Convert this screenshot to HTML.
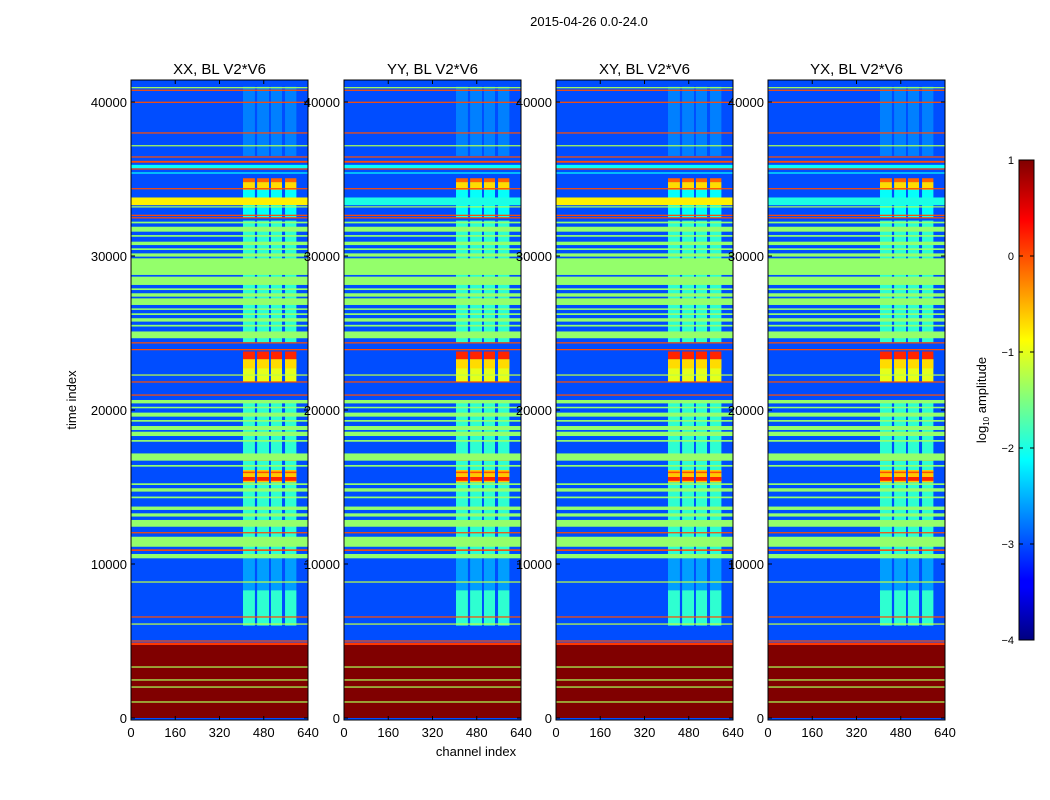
<!DOCTYPE html>
<html><head><meta charset="utf-8">
<style>
body{margin:0;background:#fff;}
svg{display:block;font-family:"Liberation Sans",sans-serif;}
</style></head>
<body>
<svg id="fig" width="1050" height="800" viewBox="0 0 1050 800" xmlns="http://www.w3.org/2000/svg">
<defs>
<linearGradient id="jetgrad" x1="0" y1="1" x2="0" y2="0">
<stop offset="0" stop-color="#000080"/>
<stop offset="0.11" stop-color="#0000ff"/>
<stop offset="0.125" stop-color="#0000ff"/>
<stop offset="0.375" stop-color="#00ffff"/>
<stop offset="0.625" stop-color="#ffff00"/>
<stop offset="0.875" stop-color="#ff0000"/>
<stop offset="1" stop-color="#800000"/>
</linearGradient>
</defs>
<text x="589" y="26" font-size="13" text-anchor="middle">2015-04-26 0.0-24.0</text>
<g id="panels"></g>
<text transform="translate(76,400) rotate(-90)" font-size="13" text-anchor="middle">time index</text>
<text x="476" y="756" font-size="13" text-anchor="middle">channel index</text>
<g id="cbar">
<rect x="1019" y="160" width="15" height="480" fill="url(#jetgrad)" stroke="#000" stroke-width="1"/>
<text transform="translate(986,400) rotate(-90)" font-size="13" text-anchor="middle">log<tspan font-size="8" dy="3">10</tspan><tspan dy="-3"> amplitude</tspan></text>
</g>
</svg>
<script>
// ---- data ----
const panelTitles = ["XX, BL V2*V6","YY, BL V2*V6","XY, BL V2*V6","YX, BL V2*V6"];
const xTicks = [0,160,320,480,640];
const yTicks = [0,10000,20000,30000,40000];
const cbarTicks = [1,0,-1,-2,-3,-4];
const backgroundValue = -3.0;
// horizontal bands: [tStart, tEnd, log10 amplitude]
const bands = [
 [0,4740,1],[1000,1080,-1.3],[1970,2050,-1.3],[2430,2510,-1.3],[3270,3350,-1.3],
 [4740,4900,0.1],[4960,5040,0],[6060,6140,-1.2],[6520,6600,0],[8790,8870,-1.2],
 [10370,10650,-1.4],[10850,10950,0],[11120,11770,-1.4],[11990,12070,0],[12420,12860,-1.4],
 [13080,13290,-1.4],[13510,13730,-1.4],[14270,14380,-1.4],[14700,14920,-1.4],[15130,15240,-1.4],
 [16320,16430,-1.4],[16710,17180,-1.4],[17940,18050,-1.4],[18310,18590,-1.4],[18700,18960,-1.4],
 [19240,19350,-1.4],[19570,19830,-1.4],[20110,20210,-1.4],[20430,20650,-1.4],[20930,21010,0],
 [21780,21860,0],[22230,22310,-1.2],[23880,23960,0],[24320,24400,0],
 [24660,25100,-1.4],[25420,25530,-1.4],[25740,25960,-1.4],[26170,26280,-1.4],[26500,26600,-1.4],
 [26820,27250,-1.4],[27360,27580,-1.4],[27790,27900,-1.4],[28120,28660,-1.4],[28770,29850,-1.4],
 [29960,30170,-1.4],[30390,30500,-1.4],[30710,30930,-1.4],[31250,31360,-1.4],[31580,31900,-1.4],
 [32120,32230,-1.4],[32440,32520,0],[32600,32680,0],[33150,33230,-1.3],
 [34330,34410,0],[35350,35430,-2.1],[35610,35690,0],[35700,35920,-2.1],[36060,36180,0],
 [36390,36470,0],[37120,37200,-1.3],[37950,38030,0],[39940,40020,0],[40720,40800,0],[40890,40970,-1.3]
];
// wide band whose value differs by panel (33300-33800)
const wideBandRange = [33300,33800];
const wideBandValues = [-0.8,-2.0,-0.8,-2.0];
// channel columns of the bright blocks
const blockCols = [[405,448],[456,499],[506,546],[557,598]];
// block regions: [tStart, tEnd, value]
const blocks = [
 [6000,8300,-1.9],[8300,10400,-2.6],[10400,20650,-1.9],[15300,16100,-0.6],[15400,15650,0.2],[15900,16000,0],[16700,16800,-0.3],
 [21850,23300,-1.0],[22700,23300,-0.7],[23300,23800,0.2],[24400,32300,-1.9],[32500,34300,-2.1],[34300,34800,-0.7],
 [34800,35050,-0.1],[36500,41000,-2.75]
];
// ---- scales ----
const panelX = [131,344,556,768], panelW = 177;
const yTop = 80, yBot = 720;
const tMax = (718-80)/0.0154;
function yS(t){ return 718 - t*0.0154; }
function xS(p,c){ return panelX[p] + c/640*panelW; }
function jet(v){
  const n = Math.max(0,Math.min(1,(v+4)/5));
  const cl = x=>Math.round(255*Math.max(0,Math.min(1,x)));
  return `rgb(${cl(1.5-Math.abs(4*n-3))},${cl(1.5-Math.abs(4*n-2))},${cl(1.5-Math.abs(4*n-1))})`;
}
const NS="http://www.w3.org/2000/svg";
const root=document.getElementById('panels');
function mk(tag,attrs,parent){const e=document.createElementNS(NS,tag);for(const k in attrs)e.setAttribute(k,attrs[k]);parent.appendChild(e);return e;}
function bandRect(g,p,t0,t1,c0,c1,v){
  const y0=yS(Math.min(t1,tMax)), y1=yS(t0);
  return mk('rect',{x:xS(p,c0),y:y0,width:xS(p,c1)-xS(p,c0),height:Math.max(1,y1-y0),fill:jet(v)},g);
}
panelTitles.forEach((title,p)=>{
  const g=mk('g',{},root);
  
  
  const bg=mk('rect',{x:panelX[p],y:yTop,width:panelW,height:yBot-yTop,fill:jet(backgroundValue)},g);
  
  
  blocks.forEach(b=>{
    blockCols.forEach(c=>{
      const r=bandRect(g,p,b[0],b[1],c[0],c[1],b[2]);
      
      
    });
  });
  const wb=bandRect(g,p,wideBandRange[0],wideBandRange[1],0,640,wideBandValues[p]);
  
  
  bands.forEach(b=>{
    const r=bandRect(g,p,b[0],b[1],0,640,b[2]);
    
    
  });
  const fr=mk('rect',{x:panelX[p],y:yTop,width:panelW,height:yBot-yTop,fill:'none',stroke:'#000','stroke-width':1},g);
  
  
  const tt=mk('text',{x:panelX[p]+panelW/2,y:74,'font-size':15,'text-anchor':'middle'},g);
  tt.textContent=title;
  
  
  xTicks.forEach(v=>{
    const x=xS(p,v);
    mk('line',{x1:x,x2:x,y1:yBot,y2:yBot-4,stroke:'#000'},g);
    mk('line',{x1:x,x2:x,y1:yTop,y2:yTop+4,stroke:'#000'},g);
    const t=mk('text',{x:x,y:737,'font-size':13,'text-anchor':'middle'},g);
    t.textContent=v;
    
    
  });
  yTicks.forEach(v=>{
    const y=yS(v);
    mk('line',{x1:panelX[p],x2:panelX[p]+4,y1:y,y2:y,stroke:'#000'},g);
    mk('line',{x1:panelX[p]+panelW,x2:panelX[p]+panelW-4,y1:y,y2:y,stroke:'#000'},g);
    const t=mk('text',{x:panelX[p]-4,y:y+5,'font-size':13,'text-anchor':'end'},g);
    t.textContent=v;
    
    
  });
});
const cb=document.getElementById('cbar');
cbarTicks.forEach(v=>{
  const y=160+(1-v)/5*480;
  mk('line',{x1:1019,x2:1023,y1:y,y2:y,stroke:'#000'},cb);
  mk('line',{x1:1030,x2:1034,y1:y,y2:y,stroke:'#000'},cb);
  const t=mk('text',{x:1014,y:y+4,'font-size':11,'text-anchor':'end'},cb);
  t.textContent=v<0?'\u2212'+(-v):String(v);
  
  
});
</script>
</body></html>
